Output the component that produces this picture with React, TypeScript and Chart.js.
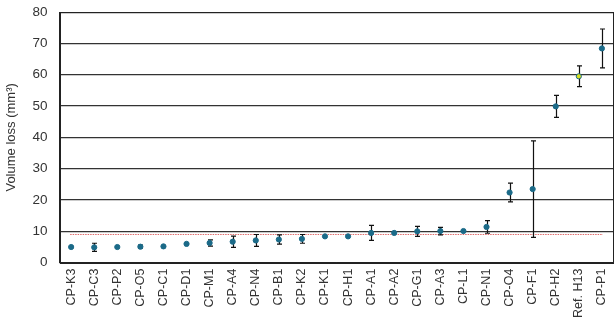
import React, { useEffect, useRef } from "react";
import { Chart, registerables } from "chart.js";

Chart.register(...registerables);

const categories = [
  "CP-K3", "CP-C3", "CP-P2", "CP-O5", "CP-C1", "CP-D1", "CP-M1", "CP-A4",
  "CP-N4", "CP-B1", "CP-K2", "CP-K1", "CP-H1", "CP-A1", "CP-A2", "CP-G1",
  "CP-A3", "CP-L1", "CP-N1", "CP-O4", "CP-F1", "CP-H2", "Ref. H13", "CP-P1",
];
const volumeLoss = [
  5.0, 4.9, 5.0, 5.1, 5.2, 6.0, 6.3, 6.7, 7.1, 7.4, 7.6, 8.4, 8.4, 9.5, 9.5,
  10.0, 10.1, 10.1, 11.4, 22.4, 23.5, 49.9, 59.5, 68.4,
];
const errorValues = [
  0, 1.3, 0, 0.5, 0, 0, 1.0, 1.8, 1.9, 1.5, 1.4, 0, 0, 2.4, 0, 1.6, 1.2, 0,
  2.0, 3.0, 15.4, 3.5, 3.3, 6.2,
];
const referenceLevel = 9.2;
const referenceCategory = "Ref. H13";
const yTicks = [0, 10, 20, 30, 40, 50, 60, 70, 80];

const MARKER = "#1b6a88";
const HIGHLIGHT = "#d6df22";

const overlayPlugin = {
  id: "overlay",
  beforeDatasetsDraw(chart: any) {
    const { ctx, scales } = chart;
    const x = scales.x;
    const y = scales.y;
    ctx.save();
    ctx.strokeStyle = "#e06a6a";
    ctx.lineWidth = 1.2;
    ctx.setLineDash([1.5, 1]);
    const yr = Math.round(y.getPixelForValue(referenceLevel)) + 0.5;
    ctx.beginPath();
    ctx.moveTo(x.getPixelForValue(0) - 1, yr);
    ctx.lineTo(x.getPixelForValue(categories.length - 1) + 1, yr);
    ctx.stroke();
    ctx.setLineDash([]);
    ctx.strokeStyle = "#111";
    ctx.lineWidth = 1.2;
    volumeLoss.forEach((v, i) => {
      const e = errorValues[i];
      if (!e) return;
      const px = Math.round(x.getPixelForValue(i)) + 0.5;
      const yt = y.getPixelForValue(v + e);
      const yb = y.getPixelForValue(v - e);
      ctx.beginPath();
      ctx.moveTo(px, yt);
      ctx.lineTo(px, yb);
      ctx.moveTo(px - 2.5, yt);
      ctx.lineTo(px + 2.5, yt);
      ctx.moveTo(px - 2.5, yb);
      ctx.lineTo(px + 2.5, yb);
      ctx.stroke();
    });
    ctx.restore();
  },
  afterDraw(chart: any) {
    const { ctx, chartArea } = chart;
    ctx.save();
    ctx.strokeStyle = "#222";
    ctx.lineWidth = 1;
    ctx.strokeRect(
      Math.round(chartArea.left) + 0.5,
      Math.round(chartArea.top) + 0.5,
      Math.round(chartArea.right - chartArea.left) - 1,
      Math.round(chartArea.bottom - chartArea.top)
    );
    ctx.restore();
  },
};

export default function App() {
  const ref = useRef<HTMLCanvasElement | null>(null);
  useEffect(() => {
    if (!ref.current) return;
    const chart = new Chart(ref.current, {
      type: "line",
      data: {
        labels: categories,
        datasets: [
          {
            data: volumeLoss,
            showLine: false,
            pointStyle: "circle",
            pointRadius: 2.6,
            pointBorderWidth: 1,
            pointBorderColor: MARKER,
            pointBackgroundColor: categories.map((c) =>
              c === referenceCategory ? HIGHLIGHT : MARKER
            ),
          },
        ],
      },
      options: {
        animation: false,
        responsive: true,
        maintainAspectRatio: false,
        layout: { padding: { top: -1, right: -9, left: 4, bottom: 0 } },
        plugins: {
          legend: { display: false },
          tooltip: { enabled: false },
        },
        scales: {
          x: {
            offset: true,
            grid: { display: false, drawTicks: false },
            border: { display: true, color: "#222", width: 1 },
            ticks: {
              autoSkip: false,
              maxRotation: 90,
              minRotation: 90,
              padding: 6,
              color: "#333",
              font: { family: "Liberation Sans, Arial, sans-serif", size: 12.5 },
            },
          },
          y: {
            min: 0,
            max: 80,
            afterBuildTicks: (s: any) => {
              s.ticks = yTicks.map((v) => ({ value: v }));
            },
            grid: { color: "#333", lineWidth: 1.2, drawTicks: false },
            border: { display: true, color: "#222", width: 1 },
            ticks: {
              padding: 12,
              color: "#333",
              font: { family: "Liberation Sans, Arial, sans-serif", size: 13.5 },
            },
            title: {
              display: true,
              text: "Volume loss (mm³)",
              color: "#333",
              padding: { top: 0, bottom: 1 },
              font: { family: "Liberation Sans, Arial, sans-serif", size: 13 },
            },
          },
        },
      },
      plugins: [overlayPlugin],
    });
    return () => chart.destroy();
  }, []);
  return (
    <div style={{ position: "fixed", left: 0, top: 0, width: 614, height: 321, overflow: "hidden", background: "#fff" }}>
      <div style={{ position: "absolute", left: 0, top: -8, width: 623, height: 332 }}>
        <canvas ref={ref} />
      </div>
    </div>
  );
}
